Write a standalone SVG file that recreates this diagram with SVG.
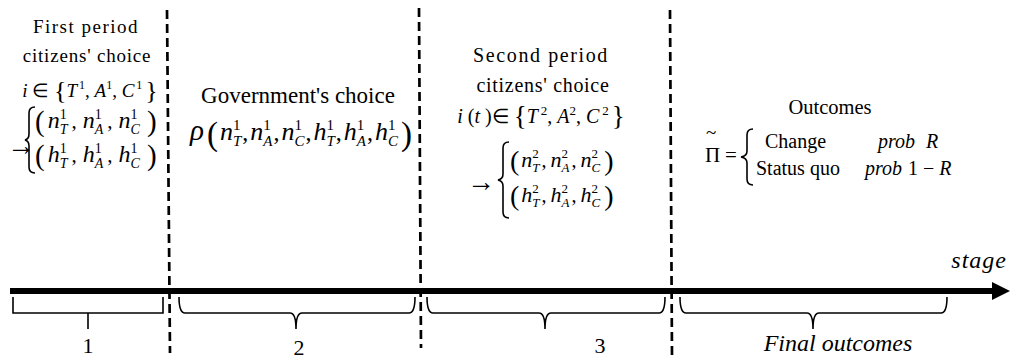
<svg xmlns="http://www.w3.org/2000/svg" width="1014" height="360" viewBox="0 0 1014 360">
<rect width="1014" height="360" fill="#fff"/>
<g id="connectors">
<line x1="10" y1="291" x2="994" y2="291" stroke="#000" stroke-width="6"/>
<polygon points="992,282 1010,291 992,300" fill="#000"/>
<g stroke="#000" stroke-width="2.7" stroke-dasharray="9 5" fill="none">
<line x1="167" y1="10" x2="170" y2="353"/>
<line x1="419" y1="8" x2="421" y2="348"/>
<line x1="670" y1="10" x2="672" y2="356"/>
</g>
</g>
<g id="stage1">
<text font-family="Liberation Serif" style="font-family:'Liberation Serif'" x="86" y="33" text-anchor="middle" font-size="19" letter-spacing="1.5">First period</text>
<text font-family="Liberation Serif" style="font-family:'Liberation Serif'" x="87" y="62" text-anchor="middle" font-size="19" letter-spacing="0.8">citizens' choice</text>
<text font-family="Liberation Serif" style="font-family:'Liberation Serif'" x="90" y="97" text-anchor="middle" font-size="19"><tspan font-style="italic">i</tspan> ∈ <tspan font-size="26" dy="2">{</tspan><tspan font-style="italic" dy="-2">T</tspan><tspan font-size="12" dy="-8" dx="2">1</tspan><tspan dy="8">, </tspan><tspan font-style="italic">A</tspan><tspan font-size="12" dy="-8">1</tspan><tspan dy="8">, </tspan><tspan font-style="italic">C</tspan><tspan font-size="12" dy="-8" dx="2">1</tspan><tspan font-size="26" dy="10" dx="3">}</tspan></text>
<text font-family="Liberation Serif" style="font-family:'Liberation Serif'" x="7" y="155" font-size="28">→</text>
<path d="M35,107 Q29,107 29,113 V134 Q29,139 25,140 Q29,141 29,146 V167 Q29,173 35,173" stroke="#000" stroke-width="1.6" fill="none"/>
<text font-family="Liberation Serif" style="font-family:'Liberation Serif'" x="35" y="128" font-size="21"><tspan font-size="29" dy="3">(</tspan><tspan dx="3" dy="-3" font-style="italic" font-size="24">n</tspan><tspan font-size="14" dy="-9">1</tspan><tspan font-size="14" font-style="italic" dx="-7" dy="15">T</tspan><tspan dy="-6" dx="4">,</tspan><tspan dx="6" font-style="italic" font-size="24">n</tspan><tspan font-size="14" dy="-9">1</tspan><tspan font-size="14" font-style="italic" dx="-7" dy="15">A</tspan><tspan dy="-6" dx="4">,</tspan><tspan dx="6" font-style="italic" font-size="24">n</tspan><tspan font-size="14" dy="-9">1</tspan><tspan font-size="14" font-style="italic" dx="-7" dy="15">C</tspan><tspan font-size="29" dy="-3" dx="7">)</tspan></text>
<text font-family="Liberation Serif" style="font-family:'Liberation Serif'" x="35" y="162" font-size="21"><tspan font-size="29" dy="3">(</tspan><tspan dx="3" dy="-3" font-style="italic" font-size="24">h</tspan><tspan font-size="14" dy="-9">1</tspan><tspan font-size="14" font-style="italic" dx="-7" dy="15">T</tspan><tspan dy="-6" dx="4">,</tspan><tspan dx="6" font-style="italic" font-size="24">h</tspan><tspan font-size="14" dy="-9">1</tspan><tspan font-size="14" font-style="italic" dx="-7" dy="15">A</tspan><tspan dy="-6" dx="4">,</tspan><tspan dx="6" font-style="italic" font-size="24">h</tspan><tspan font-size="14" dy="-9">1</tspan><tspan font-size="14" font-style="italic" dx="-7" dy="15">C</tspan><tspan font-size="29" dy="-3" dx="7">)</tspan></text>
</g>
<g id="stage2">
<text font-family="Liberation Serif" style="font-family:'Liberation Serif'" x="298" y="103" text-anchor="middle" font-size="23">Government's choice</text>
<text font-family="Liberation Serif" style="font-family:'Liberation Serif'" x="190" y="140" font-size="24"><tspan font-style="italic" font-size="29">ρ</tspan><tspan font-size="33" dx="3" dy="5">(</tspan><tspan dx="2" dy="-5" font-style="italic" font-size="26">n</tspan><tspan font-size="15" dy="-10">1</tspan><tspan font-size="15" font-style="italic" dx="-7.5" dy="16">T</tspan><tspan dy="-6" dx="1">,</tspan><tspan dx="2" font-style="italic" font-size="26">n</tspan><tspan font-size="15" dy="-10">1</tspan><tspan font-size="15" font-style="italic" dx="-7.5" dy="16">A</tspan><tspan dy="-6" dx="1">,</tspan><tspan dx="2" font-style="italic" font-size="26">n</tspan><tspan font-size="15" dy="-10">1</tspan><tspan font-size="15" font-style="italic" dx="-7.5" dy="16">C</tspan><tspan dy="-6" dx="1">,</tspan><tspan dx="2" font-style="italic" font-size="26">h</tspan><tspan font-size="15" dy="-10">1</tspan><tspan font-size="15" font-style="italic" dx="-7.5" dy="16">T</tspan><tspan dy="-6" dx="1">,</tspan><tspan dx="2" font-style="italic" font-size="26">h</tspan><tspan font-size="15" dy="-10">1</tspan><tspan font-size="15" font-style="italic" dx="-7.5" dy="16">A</tspan><tspan dy="-6" dx="1">,</tspan><tspan dx="2" font-style="italic" font-size="26">h</tspan><tspan font-size="15" dy="-10">1</tspan><tspan font-size="15" font-style="italic" dx="-7.5" dy="16">C</tspan><tspan font-size="33" dy="-1" dx="3">)</tspan></text>
</g>
<g id="stage3">
<text font-family="Liberation Serif" style="font-family:'Liberation Serif'" x="541" y="62" text-anchor="middle" font-size="20" letter-spacing="1.6">Second period</text>
<text font-family="Liberation Serif" style="font-family:'Liberation Serif'" x="543" y="92" text-anchor="middle" font-size="20" letter-spacing="0.7">citizens' choice</text>
<text font-family="Liberation Serif" style="font-family:'Liberation Serif'" x="541" y="123" text-anchor="middle" font-size="20"><tspan font-style="italic">i</tspan> (<tspan font-style="italic">t</tspan> )∈ <tspan font-size="27" dy="2">{</tspan><tspan font-style="italic" dy="-2">T</tspan><tspan font-size="13" dy="-8" dx="3">2</tspan><tspan dy="8">, </tspan><tspan font-style="italic">A</tspan><tspan font-size="13" dy="-8">2</tspan><tspan dy="8">, </tspan><tspan font-style="italic">C</tspan><tspan font-size="13" dy="-8" dx="3">2</tspan><tspan font-size="27" dy="10" dx="3">}</tspan></text>
<text font-family="Liberation Serif" style="font-family:'Liberation Serif'" x="467" y="191" font-size="28">→</text>
<path d="M509,142 Q503,142 503,148 V174 Q503,179 498,180 Q503,181 503,186 V212 Q503,218 509,218" stroke="#000" stroke-width="1.6" fill="none"/>
<text font-family="Liberation Serif" style="font-family:'Liberation Serif'" x="510" y="167" font-size="20"><tspan font-size="28" dy="3">(</tspan><tspan dx="2" dy="-3" font-style="italic" font-size="22">n</tspan><tspan font-size="13" dy="-9">2</tspan><tspan font-size="13" font-style="italic" dx="-6.5" dy="14">T</tspan><tspan dy="-5" dx="2">,</tspan><tspan dx="4" font-style="italic" font-size="22">n</tspan><tspan font-size="13" dy="-9">2</tspan><tspan font-size="13" font-style="italic" dx="-6.5" dy="14">A</tspan><tspan dy="-5" dx="2">,</tspan><tspan dx="4" font-style="italic" font-size="22">n</tspan><tspan font-size="13" dy="-9">2</tspan><tspan font-size="13" font-style="italic" dx="-6.5" dy="14">C</tspan><tspan font-size="28" dy="-2" dx="4">)</tspan></text>
<text font-family="Liberation Serif" style="font-family:'Liberation Serif'" x="510" y="202" font-size="20"><tspan font-size="28" dy="3">(</tspan><tspan dx="2" dy="-3" font-style="italic" font-size="22">h</tspan><tspan font-size="13" dy="-9">2</tspan><tspan font-size="13" font-style="italic" dx="-6.5" dy="14">T</tspan><tspan dy="-5" dx="2">,</tspan><tspan dx="4" font-style="italic" font-size="22">h</tspan><tspan font-size="13" dy="-9">2</tspan><tspan font-size="13" font-style="italic" dx="-6.5" dy="14">A</tspan><tspan dy="-5" dx="2">,</tspan><tspan dx="4" font-style="italic" font-size="22">h</tspan><tspan font-size="13" dy="-9">2</tspan><tspan font-size="13" font-style="italic" dx="-6.5" dy="14">C</tspan><tspan font-size="28" dy="-2" dx="4">)</tspan></text>
</g>
<g id="outcomes">
<text font-family="Liberation Serif" style="font-family:'Liberation Serif'" x="830" y="114" text-anchor="middle" font-size="20.5">Outcomes</text>
<text font-family="Liberation Serif" style="font-family:'Liberation Serif'" x="706" y="139" font-size="19">~</text>
<text font-family="Liberation Serif" style="font-family:'Liberation Serif'" x="705" y="162" font-size="21">Π</text>
<text font-family="Liberation Serif" style="font-family:'Liberation Serif'" x="725" y="162" font-size="21">=</text>
<path d="M753,129 Q747,129 747,135 V151 Q747,156 741,157 Q747,158 747,163 V179 Q747,185 753,185" stroke="#000" stroke-width="1.6" fill="none"/>
<text font-family="Liberation Serif" style="font-family:'Liberation Serif'" x="765" y="148" font-size="20">Change</text>
<text font-family="Liberation Serif" style="font-family:'Liberation Serif'" font-style="italic" x="878" y="148" font-size="20">prob</text>
<text font-family="Liberation Serif" style="font-family:'Liberation Serif'" font-style="italic" x="926" y="148" font-size="20">R</text>
<text font-family="Liberation Serif" style="font-family:'Liberation Serif'" x="756" y="175" font-size="20">Status quo</text>
<text font-family="Liberation Serif" style="font-family:'Liberation Serif'" font-style="italic" x="865" y="175" font-size="20">prob</text>
<text font-family="Liberation Serif" style="font-family:'Liberation Serif'" x="908" y="175" font-size="20">1 − <tspan font-style="italic">R</tspan></text>
</g>
<g id="labels">
<text font-family="Liberation Serif" style="font-family:'Liberation Serif'" x="88" y="353" text-anchor="middle" font-size="22">1</text>
<text font-family="Liberation Serif" style="font-family:'Liberation Serif'" x="299" y="355" text-anchor="middle" font-size="22">2</text>
<text font-family="Liberation Serif" style="font-family:'Liberation Serif'" x="600" y="353" text-anchor="middle" font-size="22">3</text>
<text font-family="Liberation Serif" style="font-family:'Liberation Serif'" font-style="italic" x="838" y="351" text-anchor="middle" font-size="24">Final outcomes</text>
<text font-family="Liberation Serif" style="font-family:'Liberation Serif'" font-style="italic" x="1007" y="268" text-anchor="end" font-size="24" letter-spacing="1">stage</text>
</g>
<g id="brackets" stroke="#000" stroke-width="1.6" fill="none">
<path d="M13,297 V313 H163 V297 M88,313 V329"/>
<path d="M179,297 Q179,313 185,313 H290 Q296,313 296,329 Q296,313 302,313 H409 Q415,313 415,297"/>
<path d="M427,297 Q427,313 433,313 H539 Q545,313 545,329 Q545,313 551,313 H659 Q665,313 665,297"/>
<path d="M680,297 Q680,313 686,313 H807 Q813,313 813,329 Q813,313 819,313 H941 Q947,313 947,297"/>
</g>
</svg>
